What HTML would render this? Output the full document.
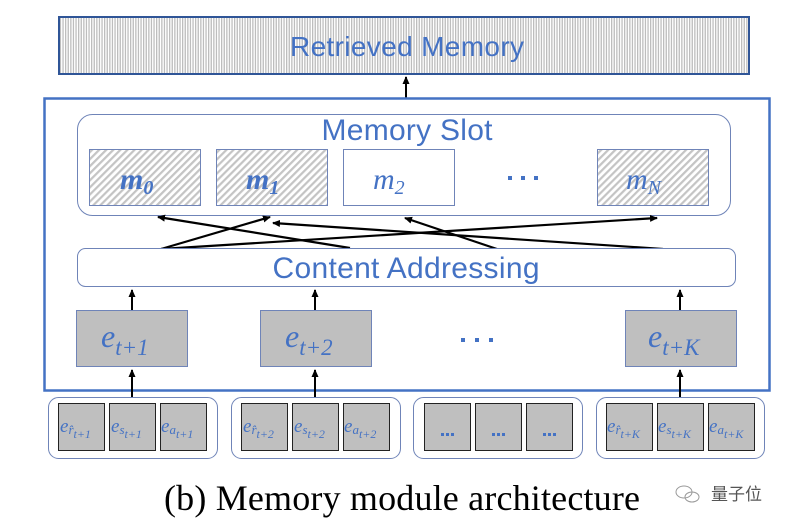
<!DOCTYPE html>
<html><head><meta charset="utf-8"><style>
html,body{margin:0;padding:0;background:#fff;}
svg{display:block;}
.b{fill:#4472c4;font-family:"Liberation Sans",sans-serif;}
.m{fill:#4472c4;font-family:"Liberation Serif",serif;font-style:italic;}
</style></head><body>
<svg width="792" height="528" viewBox="0 0 792 528" xmlns="http://www.w3.org/2000/svg">
<defs>
<pattern id="v" width="2.6" height="10" patternUnits="userSpaceOnUse"><rect width="2.6" height="10" fill="#fff"/><rect width="1.3" height="10" fill="#bdbdbd"/></pattern>
<pattern id="d" width="5" height="5" patternUnits="userSpaceOnUse" patternTransform="rotate(45)"><rect width="5" height="5" fill="#fff"/><rect width="2.2" height="5" fill="#c4c4c4"/></pattern>
<marker id="a" markerWidth="8" markerHeight="8" refX="7" refY="4" orient="auto" markerUnits="userSpaceOnUse"><path d="M0,0.5 L8,4 L0,7.5 Z" fill="#000"/></marker>
</defs>
<rect x="59" y="17" width="690" height="57" fill="url(#v)" stroke="#2f5597" stroke-width="2"/>
<text x="407" y="56" class="b" font-size="28" text-anchor="middle" textLength="234">Retrieved Memory</text>
<line x1="406" y1="98" x2="406" y2="77" stroke="#000" stroke-width="2" marker-end="url(#a)"/>
<rect x="44.5" y="98.5" width="725" height="292" fill="none" stroke="#4472c4" stroke-width="2.5"/>
<rect x="77.5" y="114.5" width="653" height="101" rx="15" fill="#fff" stroke="#6f84b8" stroke-width="1"/>
<text x="407" y="140" class="b" font-size="30" text-anchor="middle" textLength="171">Memory Slot</text>
<rect x="89.5" y="149.5" width="111" height="56" fill="url(#d)" stroke="#6f84b8"/>
<rect x="216.5" y="149.5" width="111" height="56" fill="url(#d)" stroke="#6f84b8"/>
<rect x="343.5" y="149.5" width="111" height="56" fill="#fff" stroke="#6f84b8"/>
<rect x="597.5" y="149.5" width="111" height="56" fill="url(#d)" stroke="#6f84b8"/>
<text x="120" y="189" class="m" font-size="30" font-weight="bold">m<tspan font-size="20" dy="5">0</tspan></text>
<text x="246" y="189" class="m" font-size="30" font-weight="bold">m<tspan font-size="20" dy="5">1</tspan></text>
<text x="373" y="189" class="m" font-size="30">m<tspan font-size="20" dy="5">2</tspan></text>
<text x="626" y="189" class="m" font-size="30">m<tspan font-size="20" dy="5">N</tspan></text>
<g fill="#4472c4"><rect x="508" y="176" width="4" height="4"/><rect x="521" y="176" width="4" height="4"/><rect x="534" y="176" width="4" height="4"/></g>
<g stroke="#000" stroke-width="2.2">
<line x1="350" y1="248" x2="158" y2="217" marker-end="url(#a)"/>
<line x1="161" y1="249" x2="270" y2="217" marker-end="url(#a)"/>
<line x1="161" y1="249" x2="657" y2="218" marker-end="url(#a)"/>
<line x1="663" y1="249" x2="273" y2="223" marker-end="url(#a)"/>
<line x1="497" y1="249" x2="405" y2="218" marker-end="url(#a)"/>
</g>
<rect x="77.5" y="248.5" width="658" height="38" rx="8" fill="#fff" stroke="#6f84b8"/>
<text x="406" y="278" class="b" font-size="30" text-anchor="middle" textLength="267">Content Addressing</text>
<g stroke="#000" stroke-width="2">
<line x1="132" y1="310" x2="132" y2="290" marker-end="url(#a)"/>
<line x1="315" y1="310" x2="315" y2="290" marker-end="url(#a)"/>
<line x1="680" y1="310" x2="680" y2="290" marker-end="url(#a)"/>
<line x1="132" y1="397" x2="132" y2="370" marker-end="url(#a)"/>
<line x1="315" y1="397" x2="315" y2="370" marker-end="url(#a)"/>
<line x1="680" y1="397" x2="680" y2="370" marker-end="url(#a)"/>
</g>
<rect x="76.5" y="310.5" width="111" height="56" fill="#bfbfbf" stroke="#6f84b8"/>
<rect x="260.5" y="310.5" width="111" height="56" fill="#bfbfbf" stroke="#6f84b8"/>
<rect x="625.5" y="310.5" width="111" height="56" fill="#bfbfbf" stroke="#6f84b8"/>
<text x="101" y="347" class="m" font-size="32">e<tspan font-size="23" dy="8">t+1</tspan></text>
<text x="285" y="347" class="m" font-size="32">e<tspan font-size="23" dy="8">t+2</tspan></text>
<text x="648" y="347" class="m" font-size="32">e<tspan font-size="23" dy="8">t+K</tspan></text>
<g fill="#4472c4"><rect x="461" y="338" width="4" height="4"/><rect x="475" y="338" width="4" height="4"/><rect x="489" y="338" width="4" height="4"/></g>
<g fill="#fff" stroke="#6f84b8">
<rect x="48.5" y="397.5" width="169" height="61" rx="10"/>
<rect x="231.5" y="397.5" width="169" height="61" rx="10"/>
<rect x="413.5" y="397.5" width="169" height="61" rx="10"/>
<rect x="596.5" y="397.5" width="168" height="61" rx="10"/>
</g>
<g fill="#bfbfbf" stroke="#222" stroke-width="1">
<rect x="58.5" y="403.5" width="46" height="47"/><rect x="109.5" y="403.5" width="46" height="47"/><rect x="160.5" y="403.5" width="46" height="47"/>
<rect x="241.5" y="403.5" width="46" height="47"/><rect x="292.5" y="403.5" width="46" height="47"/><rect x="343.5" y="403.5" width="46" height="47"/>
<rect x="424.5" y="403.5" width="46" height="47"/><rect x="475.5" y="403.5" width="46" height="47"/><rect x="526.5" y="403.5" width="46" height="47"/>
<rect x="606.5" y="403.5" width="46" height="47"/><rect x="657.5" y="403.5" width="46" height="47"/><rect x="708.5" y="403.5" width="46" height="47"/>
</g>
<g class="m" font-size="19">
<text x="60" y="432">e<tspan font-size="13" dy="2">r̂</tspan><tspan font-size="12" dy="4">t+1</tspan></text>
<text x="111" y="432">e<tspan font-size="13" dy="2">s</tspan><tspan font-size="12" dy="4">t+1</tspan></text>
<text x="161" y="432">e<tspan font-size="13" dy="2">a</tspan><tspan font-size="12" dy="4">t+1</tspan></text>
<text x="243" y="432">e<tspan font-size="13" dy="2">r̂</tspan><tspan font-size="12" dy="4">t+2</tspan></text>
<text x="294" y="432">e<tspan font-size="13" dy="2">s</tspan><tspan font-size="12" dy="4">t+2</tspan></text>
<text x="344" y="432">e<tspan font-size="13" dy="2">a</tspan><tspan font-size="12" dy="4">t+2</tspan></text>
<text x="607" y="432">e<tspan font-size="13" dy="2">r̂</tspan><tspan font-size="12" dy="4">t+K</tspan></text>
<text x="658" y="432">e<tspan font-size="13" dy="2">s</tspan><tspan font-size="12" dy="4">t+K</tspan></text>
<text x="709" y="432">e<tspan font-size="13" dy="2">a</tspan><tspan font-size="12" dy="4">t+K</tspan></text>
</g>
<g fill="#4472c4">
<rect x="441" y="433" width="3" height="3"/><rect x="446" y="433" width="3" height="3"/><rect x="451" y="433" width="3" height="3"/>
<rect x="492" y="433" width="3" height="3"/><rect x="497" y="433" width="3" height="3"/><rect x="502" y="433" width="3" height="3"/>
<rect x="543" y="433" width="3" height="3"/><rect x="548" y="433" width="3" height="3"/><rect x="553" y="433" width="3" height="3"/>
</g>
<text x="402" y="510" font-family="'Liberation Serif',serif" font-size="36" text-anchor="middle" fill="#000" textLength="476">(b) Memory module architecture</text>
<g stroke="#999" fill="none" stroke-width="1"><ellipse cx="684" cy="492" rx="8" ry="6"/><ellipse cx="692" cy="497" rx="7" ry="5"/></g>
<text x="711" y="500" font-family="'Liberation Sans','Noto Sans CJK SC',sans-serif" font-size="17" fill="#555">量子位</text>
</svg>
</body></html>
